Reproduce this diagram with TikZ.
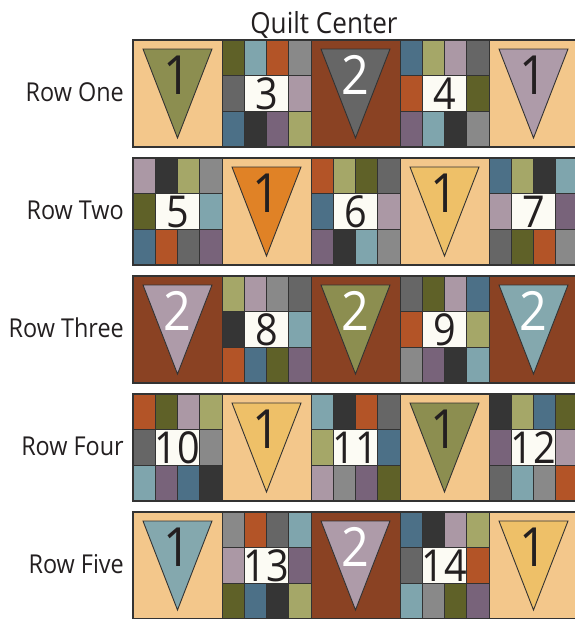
\documentclass[tikz,border=0pt]{standalone}
\usepackage{fontspec}
\setmainfont{Open Sans}[FakeStretch=0.9]
\definecolor{qTan}{HTML}{F3C78B}
\definecolor{qBrown}{HTML}{8A4223}
\definecolor{qDO}{HTML}{5F6128}
\definecolor{qLO}{HTML}{A5A768}
\definecolor{qMO}{HTML}{8C8E50}
\definecolor{qTL}{HTML}{7FA5AD}
\definecolor{qBL}{HTML}{4C7087}
\definecolor{qRU}{HTML}{B35427}
\definecolor{qGM}{HTML}{898989}
\definecolor{qGD}{HTML}{666666}
\definecolor{qCH}{HTML}{353535}
\definecolor{qML}{HTML}{AB98A5}
\definecolor{qPD}{HTML}{78637A}
\definecolor{qOR}{HTML}{E08226}
\definecolor{qYE}{HTML}{EEC068}
\definecolor{qTT}{HTML}{84A8AE}
\definecolor{qMT}{HTML}{AE9BA9}
\definecolor{qWH}{HTML}{FCFBF4}
\definecolor{qInk}{HTML}{231F20}
\definecolor{qLine}{HTML}{333333}

\begin{document}
\begin{tikzpicture}[x=1pt,y=-1pt,
  cell/.style={draw=qLine, line width=0.8pt},
  tri/.style={draw=qLine, line width=0.9pt},
  rowbox/.style={draw=qLine, line width=1.3pt},
  bignum/.style={font=\fontsize{54}{54}\selectfont, anchor=base, inner sep=0pt},
  smallnum/.style={font=\fontsize{44}{44}\selectfont, anchor=base, inner sep=0pt, text=qInk},
  rowlabel/.style={font=\fontsize{26}{26}\selectfont, anchor=base east, inner sep=0pt, text=qInk}]
\useasboundingbox (0,0) rectangle (574,619);

\node[font=\fontsize{29}{29}\selectfont, anchor=base, inner sep=0pt, text=qInk] (title) at (324,33) {Quilt Center};

% row names
\foreach \lbl [count=\r from 0] in {Row One,Row Two,Row Three,Row Four,Row Five}
  \node[rowlabel] (row\r) at (124,101+118*\r) {\lbl};

% pennant blocks: column/row/background/pennant/number/ink
\foreach \bx/\by/\bg/\fl/\num/\ink in {0/0/qTan/qMO/1/qInk, 2/0/qBrown/qGD/2/white, 4/0/qTan/qMT/1/qInk,
    1/1/qTan/qOR/1/qInk, 3/1/qTan/qYE/1/qInk,
    0/2/qBrown/qMT/2/white, 2/2/qBrown/qMO/2/white, 4/2/qBrown/qTT/2/white,
    1/3/qTan/qYE/1/qInk, 3/3/qTan/qMO/1/qInk,
    0/4/qTan/qTT/1/qInk, 2/4/qBrown/qMT/2/white, 4/4/qTan/qYE/1/qInk}
{
  \begin{scope}[shift={(133+89*\bx,40+118*\by)}]
    \filldraw[cell, fill=\bg] (0,0) rectangle (89,107);
    \filldraw[tri, fill=\fl] (10,9) -- (79,9) -- (44.5,98) -- cycle;
    \node[bignum, text=\ink] (f\bx\by) at (44.5,54) {\num};
  \end{scope}
}

% patchwork blocks: column/row/number/colours
\foreach \bx/\by/\num/\cols in {1/0/3/{DO,TL,RU,GM,GD,ML,BL,CH,PD,LO}, 3/0/4/{BL,LO,ML,GD,RU,DO,PD,TL,CH,GM},
    0/1/5/{ML,CH,LO,GM,DO,TL,BL,RU,GD,PD}, 2/1/6/{RU,LO,DO,GD,BL,ML,PD,CH,TL,GM}, 4/1/7/{BL,LO,CH,TL,ML,PD,GD,DO,RU,GM},
    1/2/8/{LO,ML,GM,GD,CH,TL,RU,BL,DO,PD}, 3/2/9/{GD,DO,ML,BL,RU,LO,GM,PD,CH,TL},
    0/3/10/{RU,DO,ML,LO,GD,GM,TL,PD,BL,CH}, 2/3/11/{TL,CH,RU,GD,LO,BL,ML,GM,PD,DO}, 4/3/12/{CH,LO,BL,DO,PD,ML,GD,TL,GM,RU},
    1/4/13/{GM,RU,GD,TL,ML,PD,DO,BL,CH,LO}, 3/4/14/{BL,CH,ML,LO,GD,RU,TL,GM,DO,PD}}
{
  \begin{scope}[shift={(133+89*\bx,40+118*\by)}]
    \foreach \c [count=\i from 0] in \cols {
      \pgfmathtruncatemacro{\cx}{{0,1,2,3,0,3,0,1,2,3}[\i]}
      \pgfmathtruncatemacro{\cy}{{0,0,0,0,1,1,2,2,2,2}[\i]}
      \filldraw[cell, fill=q\c] (22.25*\cx,35.67*\cy) rectangle ++(22.25,35.67);
    }
    \filldraw[cell, fill=qWH] (22.25,35.67) rectangle (66.75,71.33);
    \node[smallnum] (n\num) at (44.5,69) {\num};
  \end{scope}
}

% row outlines
\foreach \r in {0,...,4}
  \draw[rowbox] (133,40+118*\r) rectangle (578,147+118*\r);
\end{tikzpicture}
\end{document}
